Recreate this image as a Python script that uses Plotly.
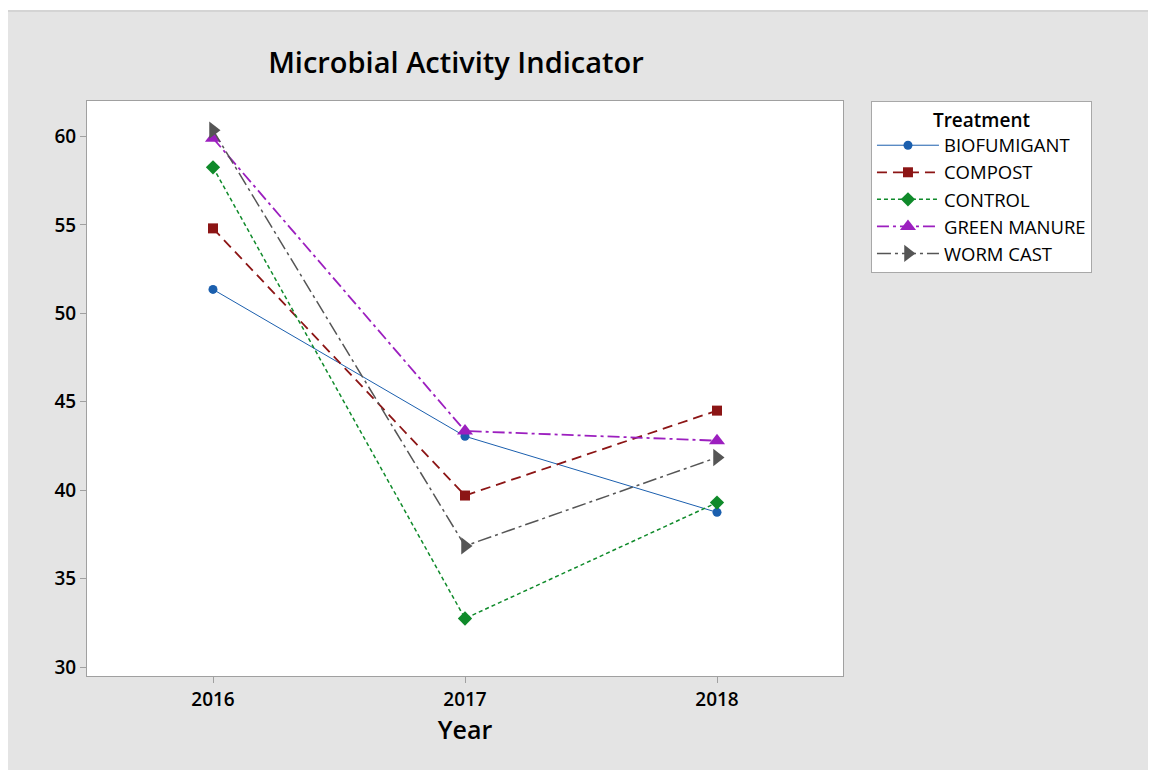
import plotly.graph_objects as go

# data
years = [2016, 2017, 2018]
biofumigant = [51.35, 43.05, 38.75]
compost = [54.8, 39.7, 44.5]
control = [58.25, 32.75, 39.3]
green_manure = [59.9, 43.35, 42.8]
worm_cast = [60.35, 36.85, 41.85]

names = ["BIOFUMIGANT", "COMPOST", "CONTROL", "GREEN MANURE", "WORM CAST"]
series = [biofumigant, compost, control, green_manure, worm_cast]
colors = ["#1b5fae", "#8c1515", "#0f8a2a", "#9c1fbf", "#555555"]
dashes = ["solid", "10px,6px", "4px,3px", "12px,4px,3px,4px", "14px,4px,3px,4px"]
symbols = ["circle", "square", "diamond", "triangle-up", "triangle-right"]
sizes = [9, 10, 11, 14, 15]
widths = [1, 1.8, 1.5, 1.8, 1.5]

fig = go.Figure()
for nm, ys, c, d, s, sz, w in zip(names, series, colors, dashes, symbols, sizes, widths):
    fig.add_trace(go.Scatter(
        x=years, y=ys, name=nm, mode="lines+markers",
        line=dict(color=c, dash=d, width=w),
        marker=dict(symbol=s, size=sz, color=c),
    ))

font = "Open Sans, Noto Sans, sans-serif"
fig.update_layout(
    width=1156, height=770,
    margin=dict(l=79, r=321, t=93, b=102),
    paper_bgcolor="#e4e4e4",
    plot_bgcolor="white",
    font=dict(family=font, color="black"),
    title=dict(text="Microbial Activity Indicator", x=0.488, xref="paper",
               xanchor="center", y=0.9286, yanchor="middle",
               font=dict(size=29, family=font, weight=600)),
    showlegend=True,
    legend=dict(
        title=dict(text="Treatment", side="top center",
                   font=dict(size=19, weight=600)),
        x=1.037, xanchor="left", y=1.0, yanchor="top",
        bgcolor="white", bordercolor="#a8a8a8", borderwidth=1,
        font=dict(size=18.5), tracegroupgap=0, itemwidth=62,
    ),
    xaxis=dict(
        range=[2015.5, 2018.5], tickvals=years, ticktext=[str(y) for y in years],
        showgrid=False, zeroline=False, showline=True, mirror=True,
        linecolor="#a0a0a0", linewidth=1, ticks="outside", ticklen=6,
        tickcolor="#a0a0a0", tickfont=dict(size=19, weight=600),
        title=dict(text="Year", font=dict(size=25, weight=600), standoff=10),
    ),
    yaxis=dict(
        range=[29.5, 62], tickvals=[30, 35, 40, 45, 50, 55, 60],
        showgrid=False, zeroline=False, showline=True, mirror=True,
        linecolor="#a0a0a0", linewidth=1, ticks="outside", ticklen=6,
        tickcolor="#a0a0a0", tickfont=dict(size=19, weight=600),
    ),
    shapes=[
        # thin white strip and frame line along the top edge
        dict(type="rect", xref="paper", yref="paper", x0=-0.2, x1=1.6,
             y0=1.1583, y1=1.3, fillcolor="white", line=dict(width=0), layer="below"),
        dict(type="line", xref="paper", yref="paper", x0=-0.2, x1=1.6,
             y0=1.1565, y1=1.1565, line=dict(color="#c4c4c4", width=1), layer="below"),
    ],
)

fig.write_html("out.html")
